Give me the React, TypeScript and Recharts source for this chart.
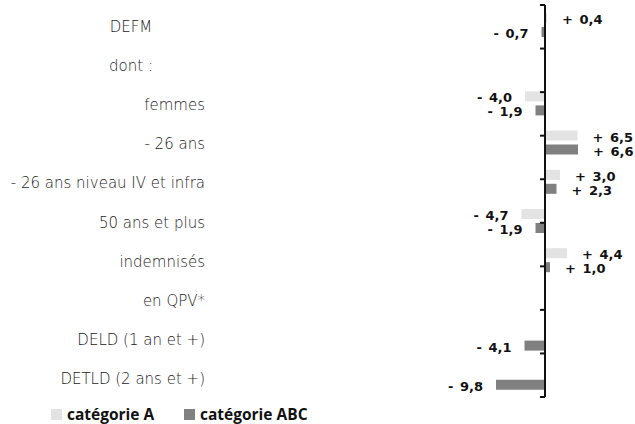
import React from 'react'
import { BarChart, Bar, XAxis, YAxis, ReferenceLine, LabelList, Legend } from 'recharts'

const categories = [
  'DEFM',
  'dont :',
  'femmes',
  '- 26 ans',
  '- 26 ans niveau IV et infra',
  '50 ans et plus',
  'indemnisés',
  'en QPV*',
  'DELD (1 an et +)',
  'DETLD (2 ans et +)',
]
const categorieA: (number | null)[] = [0.4, null, -4.0, 6.5, 3.0, -4.7, 4.4, null, null, null]
const categorieABC: (number | null)[] = [-0.7, null, -1.9, 6.6, 2.3, -1.9, 1.0, null, -4.1, -9.8]
// band boundaries where the little axis ticks sit
const boundaries = [0, 1, 2, 3, 4, 5, 6, 7, 8, 9, 10]
const centeredLabels = ['DEFM', 'dont :']

const data = categories.map((name, i) => ({ name, a: categorieA[i], abc: categorieABC[i] }))

const LIGHT = '#e3e3e3'
const DARK = '#808080'

const fmt = (v: number) => (v >= 0 ? '+\u2002' : '-\u2002') + Math.abs(v).toFixed(1).replace('.', ',')

const CategoryTick = (props: any) => {
  const { x, y, payload } = props
  const centered = centeredLabels.includes(payload.value)
  return (
    <text
      x={centered ? x - 74 : x}
      y={y}
      dy={7}
      textAnchor={centered ? 'middle' : 'end'}
      fontSize={15}
      fontWeight={300}
      fill="#1a1a1a"
      fontFamily="'DejaVu Sans', sans-serif"
    >
      {payload.value}
    </text>
  )
}

const ValueLabel = (props: any) => {
  const { x, y, width, height, value } = props
  if (value === null || value === undefined) return null
  const left = Math.min(x, x + width)
  const right = Math.max(x, x + width)
  const pos = value >= 0
  return (
    <text
      x={pos ? right + 15 : left - 13}
      y={y + height / 2}
      dy={6}
      textAnchor={pos ? 'start' : 'end'}
      fontSize={13}
      fontWeight={700}
      fill="#111"
      fontFamily="'DejaVu Sans', sans-serif"
    >
      {fmt(value)}
    </text>
  )
}

const LegendBox = () => (
  <div
    style={{
      height: 24,
      paddingTop: 10,
      boxSizing: 'border-box',
      display: 'flex',
      alignItems: 'center',
      fontFamily: "'Open Sans', sans-serif",
      fontWeight: 700,
      fontSize: 15.5,
      color: '#111',
      lineHeight: '16px',
    }}
  >
    <span style={{ width: 11, height: 11, background: LIGHT, marginLeft: 51, marginRight: 5 }} />
    <span style={{ width: 112 }}>catégorie A</span>
    <span style={{ width: 11, height: 11, background: DARK, marginLeft: 5, marginRight: 5 }} />
    <span>catégorie ABC</span>
  </div>
)

export default function App() {
  return (
    <div style={{ position: 'absolute', left: 0, top: 0, width: 635, height: 424, background: '#fff' }}>
      <BarChart
        width={635}
        height={424}
        data={data}
        layout="vertical"
        margin={{ top: 5, right: 10, left: 0, bottom: 3 }}
        barSize={10}
        barGap={4}
      >
        <XAxis type="number" domain={[-13, 16]} hide />
        <YAxis
          type="category"
          dataKey="name"
          width={480}
          axisLine={false}
          tickLine={false}
          tickSize={0}
          tickMargin={275}
          interval={0}
          tick={<CategoryTick />}
        />
        <YAxis yAxisId="grid" type="number" domain={[0, 10]} hide />
        <Legend verticalAlign="bottom" content={<LegendBox />} />
        <Bar dataKey="a" fill={LIGHT} isAnimationActive={false}>
          <LabelList dataKey="a" content={<ValueLabel />} />
        </Bar>
        <Bar dataKey="abc" fill={DARK} isAnimationActive={false}>
          <LabelList dataKey="abc" content={<ValueLabel />} />
        </Bar>
        <ReferenceLine x={0} stroke="#111" strokeWidth={2} />
        {boundaries.map((b) => (
          <ReferenceLine
            key={b}
            yAxisId="grid"
            segment={[{ x: -1, y: b }, { x: 0, y: b }]}
            stroke="#111"
            strokeWidth={2}
          />
        ))}
      </BarChart>
    </div>
  )
}
